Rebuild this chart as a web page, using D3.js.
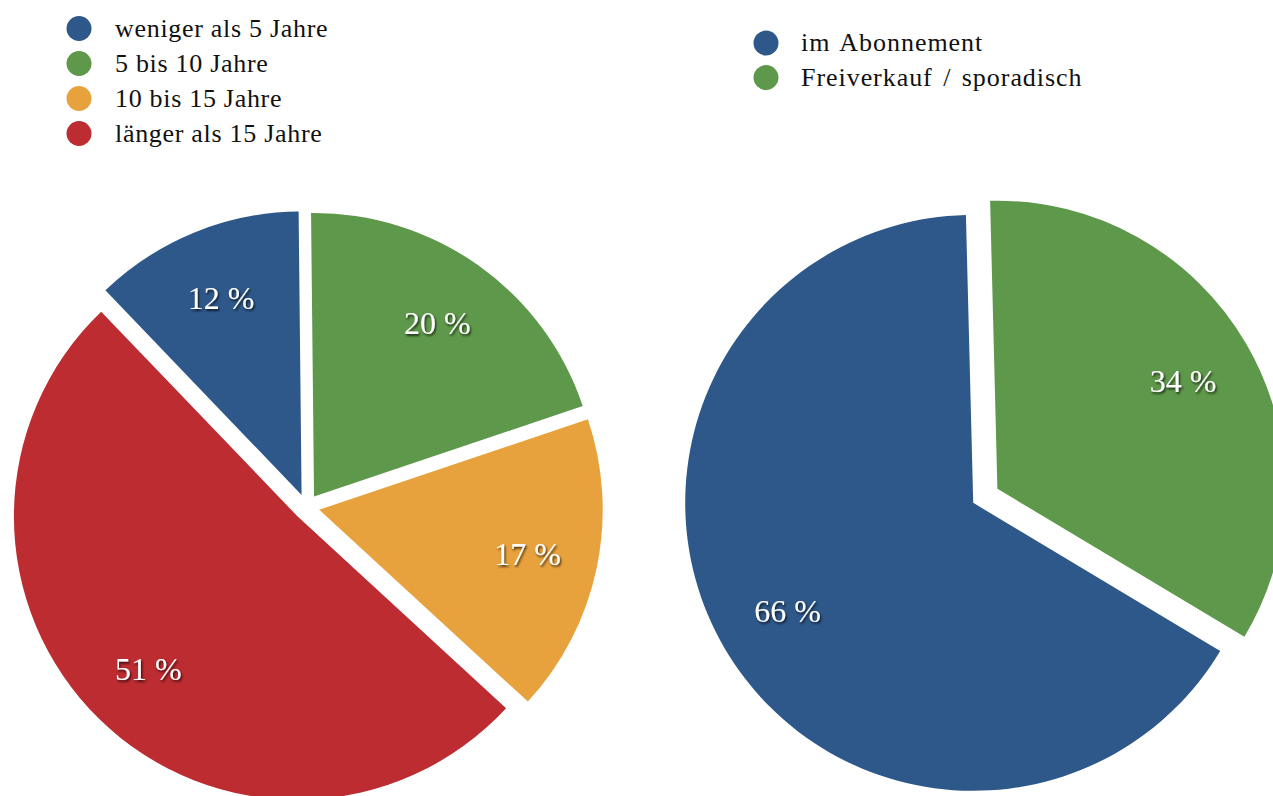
<!DOCTYPE html>
<html>
<head>
<meta charset="utf-8">
<script src="https://cdn.jsdelivr.net/npm/d3@7"></script>
<style>
  html, body { margin: 0; padding: 0; background: #ffffff; overflow: hidden; }
  svg { display: block; }
  text { font-family: "Liberation Serif", "DejaVu Serif", serif; }
</style>
</head>
<body>
<svg id="chart" width="1273" height="796"></svg>
<script>
// ---- Data ----
const leftCategories = ["weniger als 5 Jahre", "5 bis 10 Jahre", "10 bis 15 Jahre", "länger als 15 Jahre"];
const leftValues = [12, 20, 17, 51];
const rightCategories = ["im Abonnement", "Freiverkauf / sporadisch"];
const rightValues = [66, 34];

// ---- Styles ----
const leftColor = d3.scaleOrdinal().domain(leftCategories)
  .range(["#2e588a", "#5e984a", "#e7a23e", "#bc2c31"]);
const rightColor = d3.scaleOrdinal().domain(rightCategories)
  .range(["#2e588a", "#5e984a"]);

const svg = d3.select("#chart");

const defs = svg.append("defs");
const f = defs.append("filter").attr("id", "shadow")
  .attr("x", "-20%").attr("y", "-20%").attr("width", "140%").attr("height", "150%");
f.append("feDropShadow").attr("dx", 1.2).attr("dy", 1.8).attr("stdDeviation", 1.3)
  .attr("flood-color", "#000").attr("flood-opacity", 0.75);

function drawPie(cfg) {
  const total = d3.sum(cfg.values);
  const firstShare = cfg.values[0] / total;
  const start = cfg.rotation - firstShare * 2 * Math.PI;
  const pie = d3.pie().sort(null).value(d => d.value)
    .startAngle(start).endAngle(start + 2 * Math.PI);
  const data = pie(cfg.categories.map((c, i) => ({ cat: c, value: cfg.values[i] })));
  const arc = d3.arc().innerRadius(0).outerRadius(cfg.r);
  const labelArc = d3.arc().innerRadius(cfg.labelR).outerRadius(cfg.labelR);

  const g = svg.append("g").attr("transform", `translate(${cfg.cx},${cfg.cy})`);
  const slice = g.selectAll("g.slice").data(data).join("g")
    .attr("class", "slice")
    .attr("transform", d => {
      const mid = (d.startAngle + d.endAngle) / 2;
      return `translate(${cfg.explode * Math.sin(mid)},${-cfg.explode * Math.cos(mid)})`;
    });
  slice.append("path")
    .attr("d", arc)
    .attr("fill", d => cfg.color(d.data.cat));
  slice.append("text")
    .attr("transform", d => `translate(${labelArc.centroid(d)})`)
    .attr("text-anchor", "middle")
    .attr("dy", "0.35em")
    .attr("fill", "#ffffff")
    .attr("font-size", 32)
    .attr("filter", "url(#shadow)")
    .text(d => `${d.data.value} %`);
}

function drawLegend(cfg) {
  const g = svg.append("g");
  const items = g.selectAll("g").data(cfg.categories).join("g")
    .attr("transform", (d, i) => `translate(${cfg.x},${cfg.y + i * cfg.step})`);
  items.append("circle").attr("r", 12.5).attr("fill", d => cfg.color(d));
  items.append("text")
    .attr("x", cfg.textDx).attr("y", 8)
    .attr("font-size", 26)
    .attr("letter-spacing", cfg.ls)
    .attr("word-spacing", cfg.ws)
    .attr("fill", "#111")
    .text(d => d);
}

drawPie({ categories: leftCategories, values: leftValues, color: leftColor,
  cx: 306.5, cy: 507, r: 283.5, explode: 13, labelR: 213, rotation: -0.6 * Math.PI / 180 });
drawPie({ categories: rightCategories, values: rightValues, color: rightColor,
  cx: 985.3, cy: 495.8, r: 288, explode: 14, labelR: 215, rotation: -1.45 * Math.PI / 180 });

drawLegend({ categories: leftCategories, color: leftColor, x: 79, y: 28.5, step: 35, textDx: 36, ls: 0.7, ws: 0 });
drawLegend({ categories: rightCategories, color: rightColor, x: 766, y: 43, step: 34.5, textDx: 35, ls: 0.95, ws: 3 });
</script>
</body>
</html>
